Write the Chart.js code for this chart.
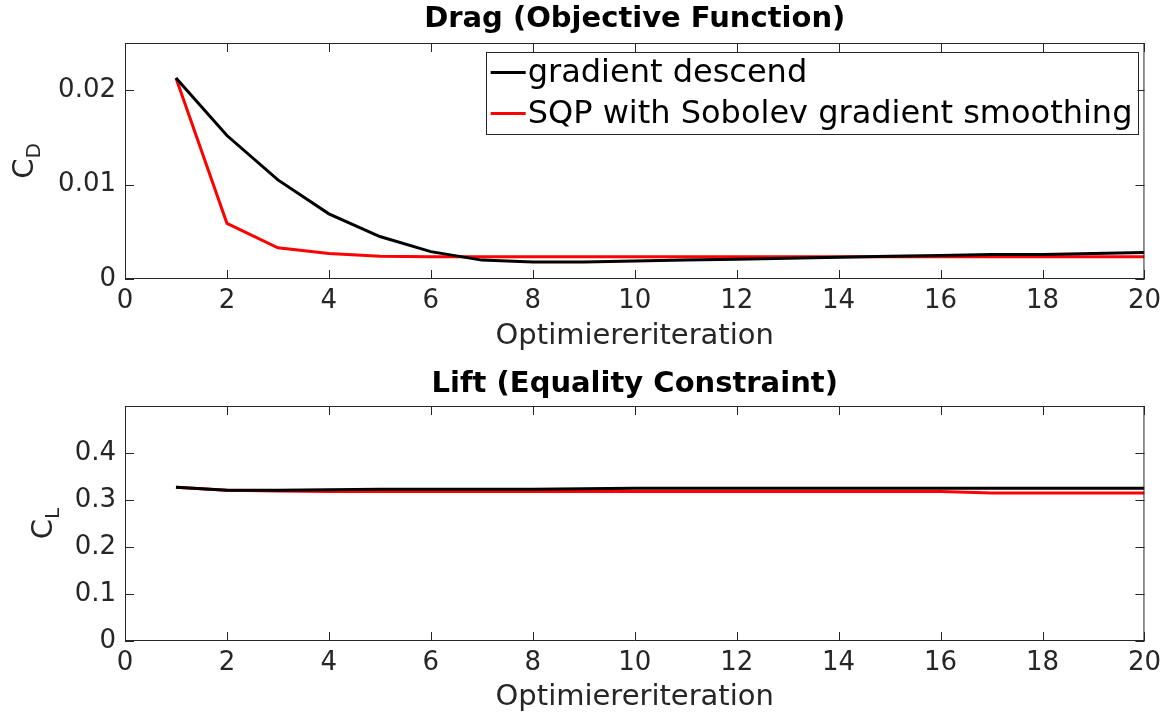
<!DOCTYPE html>
<html>
<head>
<meta charset="utf-8">
<script src="https://cdn.jsdelivr.net/npm/chart.js@4.4.1/dist/chart.umd.min.js"></script>
<style>
  html, body { margin: 0; padding: 0; background: #fff; }
  #wrap { position: relative; width: 1168px; height: 719px; }
  canvas { position: absolute; left: 0; }
  #dragChart { top: 0; }
  #liftChart { top: 360px; }
</style>
</head>
<body>
<div id="wrap">
  <canvas id="dragChart" width="1168" height="360"></canvas>
  <canvas id="liftChart" width="1168" height="359"></canvas>
</div>
<script>
// values
const iterations = [1, 2, 3, 4, 5, 6, 7, 8, 9, 10, 11, 12, 13, 14, 15, 16, 17, 18, 19, 20];
const dragGradient = [0.0213, 0.0152, 0.0105, 0.0069, 0.0045, 0.0029, 0.0020, 0.0018, 0.0018, 0.0019,
  0.0020, 0.0021, 0.0022, 0.0023, 0.0024, 0.0025, 0.0026, 0.0026, 0.0027, 0.0028];
const dragSQP = [0.0213, 0.0059, 0.0033, 0.0027, 0.0024, 0.00235, 0.00235, 0.00235, 0.00235, 0.00235,
  0.00235, 0.00235, 0.00235, 0.00235, 0.00235, 0.00235, 0.00235, 0.00235, 0.00235, 0.00235];
const liftGradient = [0.327, 0.321, 0.321, 0.322, 0.323, 0.323, 0.323, 0.323, 0.324, 0.325,
  0.325, 0.325, 0.325, 0.325, 0.325, 0.325, 0.325, 0.325, 0.325, 0.325];
const liftSQP = [0.327, 0.321, 0.319, 0.318, 0.318, 0.318, 0.318, 0.318, 0.318, 0.318,
  0.318, 0.318, 0.318, 0.318, 0.318, 0.318, 0.315, 0.315, 0.315, 0.315];
const seriesNames = ["gradient descend", "SQP with Sobolev gradient smoothing"];
const xTicks = [0, 2, 4, 6, 8, 10, 12, 14, 16, 18, 20];
const dragTicks = [0, 0.01, 0.02];
const liftTicks = [0, 0.1, 0.2, 0.3, 0.4];

const FONT = "'DejaVu Sans', sans-serif";
const TEXT = "#262626";

const toPoints = (ys) => iterations.map((x, i) => ({ x, y: ys[i] }));

// box round the axes + inward tick marks, like matlab
const boxPlugin = {
  id: "box",
  afterDraw(chart) {
    const { ctx, chartArea: a, scales } = chart;
    const len = 9;
    ctx.save();
    ctx.strokeStyle = TEXT;
    ctx.lineWidth = 1;
    ctx.beginPath();
    ctx.rect(a.left + 0.5, a.top + 0.5, a.right - a.left - 1, a.bottom - a.top - 1);
    scales.x.ticks.forEach((t) => {
      const px = Math.round(scales.x.getPixelForValue(t.value)) + 0.5;
      ctx.moveTo(px, a.bottom); ctx.lineTo(px, a.bottom - len);
      ctx.moveTo(px, a.top); ctx.lineTo(px, a.top + len);
    });
    scales.y.ticks.forEach((t) => {
      const py = Math.round(scales.y.getPixelForValue(t.value)) + 0.5;
      ctx.moveTo(a.left, py); ctx.lineTo(a.left + len, py);
      ctx.moveTo(a.right, py); ctx.lineTo(a.right - len, py);
    });
    ctx.stroke();
    ctx.restore();
  },
};

// bold title centred over the plot area (not the whole canvas)
const axTitlePlugin = {
  id: "axTitle",
  afterDraw(chart, args, opts) {
    const { ctx, chartArea: a } = chart;
    ctx.save();
    ctx.fillStyle = "#000";
    ctx.font = `bold 29px ${FONT}`;
    ctx.textAlign = "center";
    ctx.textBaseline = "middle";
    ctx.fillText(opts.text, (a.left + a.right) / 2, opts.y);
    ctx.restore();
  },
};

// y label with subscript (C_D, C_L)
const yLabelPlugin = {
  id: "yLabel",
  afterDraw(chart, args, opts) {
    const { ctx, chartArea: a } = chart;
    ctx.save();
    ctx.translate(opts.x, (a.top + a.bottom) / 2);
    ctx.rotate(-Math.PI / 2);
    ctx.fillStyle = TEXT;
    ctx.textBaseline = "alphabetic";
    ctx.font = `29px ${FONT}`;
    const w = ctx.measureText(opts.main).width;
    ctx.font = `20px ${FONT}`;
    const ws = ctx.measureText(opts.sub).width;
    const x0 = -(w + ws) / 2;
    ctx.font = `29px ${FONT}`;
    ctx.fillText(opts.main, x0, 0);
    ctx.font = `20px ${FONT}`;
    ctx.fillText(opts.sub, x0 + w, 7);
    ctx.restore();
  },
};

// legend box in the top right corner of the plot
const legendBoxPlugin = {
  id: "legendBox",
  afterDraw(chart, args, opts) {
    if (!opts.show) return;
    const { ctx, chartArea: a } = chart;
    const sets = chart.data.datasets;
    ctx.save();
    ctx.font = `32px ${FONT}`;
    const textW = Math.max(...sets.map((d) => ctx.measureText(d.label).width));
    const lineLen = 35, gap = 2, padX = 5, rowH = 41;
    const boxW = padX + lineLen + gap + textW + padX;
    const boxH = rowH * sets.length;
    const right = a.right - 7;
    const left = right - boxW;
    const top = a.top + 9;
    ctx.fillStyle = "#fff";
    ctx.fillRect(left, top, boxW, boxH);
    ctx.strokeStyle = TEXT;
    ctx.lineWidth = 1;
    ctx.strokeRect(Math.round(left) + 0.5, top + 0.5, Math.round(boxW), boxH);
    sets.forEach((d, i) => {
      const y = top + rowH * i + rowH / 2;
      ctx.strokeStyle = d.borderColor;
      ctx.lineWidth = 3;
      ctx.beginPath();
      ctx.moveTo(left + padX, y);
      ctx.lineTo(left + padX + lineLen, y);
      ctx.stroke();
      ctx.fillStyle = "#000";
      ctx.textBaseline = "middle";
      ctx.fillText(d.label, left + padX + lineLen + gap, y + 1);
    });
    ctx.restore();
  },
};

function makeChart(id, cfg) {
  return new Chart(document.getElementById(id), {
    type: "line",
    data: {
      datasets: [
        { label: seriesNames[0], data: toPoints(cfg.gd), borderColor: "#000000", borderWidth: 3, pointRadius: 0, tension: 0, fill: false },
        { label: seriesNames[1], data: toPoints(cfg.sqp), borderColor: "#ff0000", borderWidth: 3, pointRadius: 0, tension: 0, fill: false },
      ],
    },
    plugins: [boxPlugin, axTitlePlugin, yLabelPlugin, legendBoxPlugin],
    options: {
      responsive: false,
      animation: false,
      devicePixelRatio: 1,
      layout: { padding: { left: 0, right: 23, top: cfg.top, bottom: 0 } },
      plugins: {
        legend: { display: false },
        tooltip: { enabled: false },
        title: { display: false },
        axTitle: { text: cfg.title, y: cfg.titleY },
        yLabel: { main: "C", sub: cfg.sub, x: cfg.labelX },
        legendBox: { show: cfg.legend },
      },
      scales: {
        x: {
          type: "linear",
          min: 0,
          max: 20,
          grid: { display: false, drawTicks: false },
          border: { display: false },
          afterBuildTicks: (s) => { s.ticks = xTicks.map((v) => ({ value: v })); },
          afterFit: (s) => { s.height = cfg.xHeight; },
          ticks: {
            color: TEXT,
            padding: 7,
            maxRotation: 0,
            autoSkip: false,
            font: { family: FONT, size: 26 },
            callback: (v) => String(v),
          },
          title: {
            display: true,
            text: "Optimiereriteration",
            color: TEXT,
            font: { family: FONT, size: 29 },
            padding: { top: 0, bottom: cfg.xTitlePad },
          },
        },
        y: {
          min: 0,
          max: cfg.yMax,
          grid: { display: false, drawTicks: false },
          border: { display: false },
          afterBuildTicks: (s) => { s.ticks = cfg.yTicks.map((v) => ({ value: v })); },
          afterFit: (s) => { s.width = 125; },
          ticks: {
            color: TEXT,
            padding: 9,
            autoSkip: false,
            font: { family: FONT, size: 26 },
            callback: (v) => String(parseFloat(v.toFixed(4))),
          },
        },
      },
    },
  });
}

makeChart("dragChart", {
  title: "Drag (Objective Function)",
  titleY: 19,
  top: 43,
  gd: dragGradient,
  sqp: dragSQP,
  yMax: 0.025,
  yTicks: dragTicks,
  sub: "D",
  labelX: 33,
  xHeight: 81,
  xTitlePad: 6,
  legend: true,
});

makeChart("liftChart", {
  title: "Lift (Equality Constraint)",
  titleY: 24,
  top: 46,
  gd: liftGradient,
  sqp: liftSQP,
  yMax: 0.5,
  yTicks: liftTicks,
  sub: "L",
  labelX: 52,
  xHeight: 78,
  xTitlePad: 4,
  legend: false,
});
</script>
</body>
</html>
